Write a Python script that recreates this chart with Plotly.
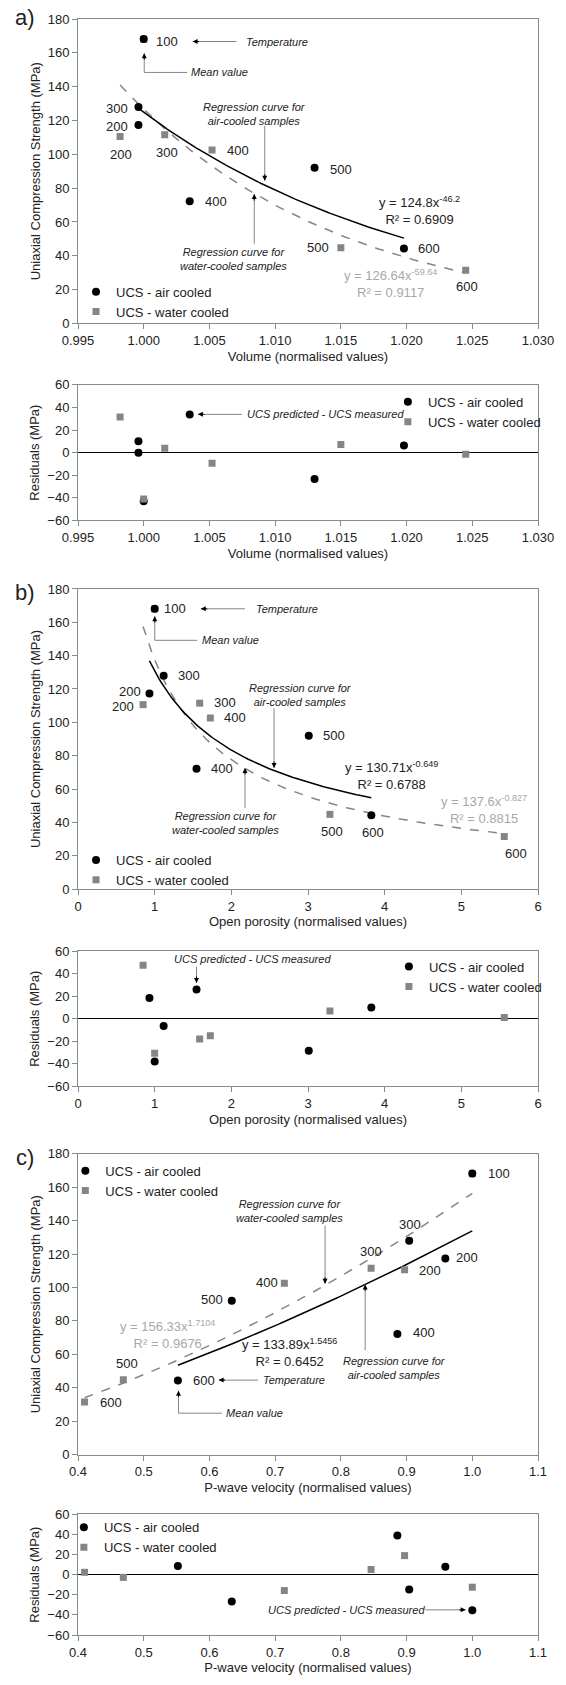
import numpy as np
import plotly.graph_objects as go

# ---------------- data ----------------
temps = [100, 200, 300, 400, 500, 600]

ucs_air = [168.2, 117.3, 128.0, 72.2, 92.0, 44.3]
ucs_water = [168.0, 110.6, 111.5, 102.6, 44.8, 31.5]

vol_air = [1.0000, 0.9996, 0.9996, 1.0035, 1.0130, 1.0198]
vol_water = [1.0000, 0.9982, 1.0016, 1.0052, 1.0150, 1.0245]
res_vol_air = [-43.0, 10.2, 0.0, 33.7, -23.4, 6.4]
res_vol_water = [-41.0, 31.6, 3.8, -9.4, 7.3, -1.5]

por_air = [1.000, 0.932, 1.117, 1.546, 3.010, 3.826]
por_water = [1.000, 0.849, 1.587, 1.726, 3.286, 5.560]
res_por_air = [-37.9, 18.5, -6.5, 25.9, -28.5, 10.0]
res_por_water = [-30.6, 47.4, -17.9, -15.0, 6.8, 1.2]

vp_air = [1.000, 0.959, 0.904, 0.886, 0.634, 0.552]
vp_water = [1.000, 0.897, 0.846, 0.714, 0.469, 0.410]
res_vp_air = [-35.4, 7.8, -14.8, 38.8, -26.8, 8.7]
res_vp_water = [-12.5, 18.9, 5.1, -15.8, -2.7, 2.3]

# power-law fits y = a * x^b (coefficients printed on the chart)
fit_vol_air = [124.8, -46.2]
fit_vol_water = [126.64, -59.64]
fit_por_air = [130.71, -0.649]
fit_por_water = [137.6, -0.827]
fit_vp_air = [133.89, 1.5456]
fit_vp_water = [156.33, 1.7104]

# ---------------- style ----------------
FONT = "Liberation Sans, Arial, sans-serif"
BLACK = "#000000"
GRAY = "#858585"
EQGRAY = "#a8a8a8"
FRAME = "#8a8a8a"
TXT = "#222222"

fig = go.Figure()

def curve(xs, coef):
    x = np.linspace(min(xs), max(xs), 120)
    return x, coef[0] * x ** coef[1]

def add_main(n, xa, xw, fa, fw, leg):
    xr, yr = ("x%d" % n if n > 1 else "x"), ("y%d" % n if n > 1 else "y")
    cx, cy = curve(xw, fw)
    fig.add_trace(go.Scatter(x=cx, y=cy, mode="lines", line=dict(color=GRAY, width=1.5, dash="dash"),
                             xaxis=xr, yaxis=yr, showlegend=False, hoverinfo="skip"))
    cx, cy = curve(xa, fa)
    fig.add_trace(go.Scatter(x=cx, y=cy, mode="lines", line=dict(color=BLACK, width=1.5),
                             xaxis=xr, yaxis=yr, showlegend=False, hoverinfo="skip"))
    fig.add_trace(go.Scatter(x=xw, y=ucs_water, mode="markers", name="UCS - water cooled",
                             marker=dict(symbol="square", size=7, color=GRAY),
                             xaxis=xr, yaxis=yr, legend=leg, legendrank=2))
    fig.add_trace(go.Scatter(x=xa, y=ucs_air, mode="markers", name="UCS - air cooled",
                             marker=dict(symbol="circle", size=8, color=BLACK),
                             xaxis=xr, yaxis=yr, legend=leg, legendrank=1))

def add_res(n, xa, xw, ra, rw, leg):
    xr, yr = "x%d" % n, "y%d" % n
    fig.add_trace(go.Scatter(x=xa, y=ra, mode="markers", name="UCS - air cooled",
                             marker=dict(symbol="circle", size=8, color=BLACK),
                             xaxis=xr, yaxis=yr, legend=leg, legendrank=1))
    fig.add_trace(go.Scatter(x=xw, y=rw, mode="markers", name="UCS - water cooled",
                             marker=dict(symbol="square", size=7, color=GRAY),
                             xaxis=xr, yaxis=yr, legend=leg, legendrank=2))

add_main(1, vol_air, vol_water, fit_vol_air, fit_vol_water, "legend")
add_res(2, vol_air, vol_water, res_vol_air, res_vol_water, "legend2")
add_main(3, por_air, por_water, fit_por_air, fit_por_water, "legend3")
add_res(4, por_air, por_water, res_por_air, res_por_water, "legend4")
add_main(5, vp_air, vp_water, fit_vp_air, fit_vp_water, "legend5")
add_res(6, vp_air, vp_water, res_vp_air, res_vp_water, "legend6")

# ---------------- annotations ----------------
anns = []
shapes = []

def ref(n):
    return ("x" if n == 1 else "x%d" % n), ("y" if n == 1 else "y%d" % n)

def text(n, x, y, t, size=13, color=TXT, xanchor="center", italic=False):
    xr, yr = ref(n)
    if italic:
        t = "<i>" + t + "</i>"
    anns.append(dict(x=x, y=y, xref=xr, yref=yr, text=t, showarrow=False,
                     font=dict(family=FONT, size=size, color=color),
                     xanchor=xanchor, yanchor="middle", align="center"))

def arrow(n, x0, y0, x1, y1, d):
    xr, yr = ref(n)
    shapes.append(dict(type="line", xref=xr, yref=yr, x0=x0, y0=y0, x1=x1, y1=y1,
                       line=dict(color=GRAY, width=1)))
    off = {"left": (8, 0), "right": (-8, 0), "up": (0, 8), "down": (0, -8)}[d]
    anns.append(dict(x=x1, y=y1, xref=xr, yref=yr, ax=off[0], ay=off[1],
                     text="", showarrow=True, arrowhead=2, arrowsize=1, arrowwidth=1,
                     arrowcolor=BLACK))

def hline(n, x0, x1, y):
    xr, yr = ref(n)
    shapes.append(dict(type="line", xref=xr, yref=yr, x0=x0, x1=x1, y0=y, y1=y,
                       line=dict(color=GRAY, width=1)))

# panel a
lab_a = [(0, 1.00077, 166.7, "left"), (2, 0.99795, 127.0, "center"), (1, 0.99795, 116.7, "center"),
         (1, 0.99827, 100.0, "center"), (2, 1.00179, 101.0, "center"), (3, 1.00715, 102.4, "center"),
         (4, 1.01503, 91.2, "center"), (3, 1.00551, 72.0, "center"), (5, 1.02174, 44.1, "center"),
         (4, 1.01329, 44.7, "center"), (5, 1.02461, 21.6, "center")]
for i, x, y, a in lab_a:
    text(1, x, y, str(temps[i]), xanchor=a)
text(1, 1.00761, 166.7, "Temperature", size=11, xanchor="left", italic=True)
arrow(1, 1.00707, 166.7, 1.00372, 166.7, "left")
text(1, 1.00345, 148.4, "Mean value", size=11, xanchor="left", italic=True)
hline(1, 1.00004, 1.00331, 148.4)
arrow(1, 1.00004, 148.4, 1.00004, 159.8, "up")
text(1, 1.00841, 124.0, "Regression curve for<br>air-cooled samples", size=11, italic=True)
arrow(1, 1.00921, 116.7, 1.00921, 84.3, "down")
text(1, 1.0068, 38.4, "Regression curve for<br>water-cooled samples", size=11, italic=True)
arrow(1, 1.00841, 47.1, 1.00841, 76.5, "up")
text(1, 1.02101, 66.7, "y = 124.8x<sup>-46.2</sup><br>R² = 0.6909", color=TXT)
text(1, 1.01874, 23.5, "y = 126.64x<sup>-59.64</sup><br>R² = 0.9117", color=EQGRAY)

# residual a
text(2, 1.0077, 33.9, "UCS predicted - UCS measured", size=11, xanchor="left", italic=True)
arrow(2, 1.00747, 33.9, 1.00412, 33.9, "left")

# panel b
lab_b = [(0, 1.094, 168.1, "left"), (2, 1.445, 127.9, "center"), (1, 0.674, 118.3, "center"),
         (1, 0.582, 109.8, "center"), (2, 1.911, 111.8, "center"), (3, 2.054, 102.7, "center"),
         (4, 3.342, 91.9, "center"), (3, 1.883, 72.2, "center"), (4, 3.314, 34.8, "center"),
         (5, 3.854, 33.8, "center"), (5, 5.714, 21.5, "center")]
for i, x, y, a in lab_b:
    text(3, x, y, str(temps[i]), xanchor=a)
text(3, 2.294, 168.1, "Temperature", size=11, xanchor="left", italic=True)
arrow(3, 2.178, 168.1, 1.6015, 168.1, "left")
text(3, 1.59, 149.2, "Mean value", size=11, xanchor="left", italic=True)
hline(3, 1.0015, 1.555, 149.2)
arrow(3, 1.0015, 149.2, 1.0015, 163.7, "up")
text(3, 2.9, 116.4, "Regression curve for<br>air-cooled samples", size=11, italic=True)
arrow(3, 2.557, 108.4, 2.557, 72.6, "down")
text(3, 1.925, 39.8, "Regression curve for<br>water-cooled samples", size=11, italic=True)
arrow(3, 2.178, 48.7, 2.178, 72.6, "up")
text(3, 4.095, 67.9, "y = 130.71x<sup>-0.649</sup><br>R² = 0.6788", color=TXT)
text(3, 5.30, 47.5, "y = 137.6x<sup>-0.827</sup><br>R² = 0.8815", color=EQGRAY)

# residual b
text(4, 2.28, 53.3, "UCS predicted - UCS measured", size=11, italic=True)
arrow(4, 1.546, 46.0, 1.546, 31.8, "down")

# panel c
lab_c = [(0, 1.041, 168.2, "center"), (2, 0.9046, 137.9, "center"), (2, 0.846, 121.7, "center"),
         (1, 0.992, 117.7, "center"), (1, 0.936, 110.1, "center"), (3, 0.687, 102.8, "center"),
         (3, 0.926, 72.9, "center"), (4, 0.604, 92.7, "center"), (5, 0.592, 44.6, "center"),
         (4, 0.474, 54.6, "center"), (5, 0.450, 31.4, "center")]
for i, x, y, a in lab_c:
    text(5, x, y, str(temps[i]), xanchor=a)
text(5, 0.678, 44.6, "Temperature", size=11, xanchor="left", italic=True)
arrow(5, 0.674, 44.6, 0.614, 44.6, "left")
text(5, 0.622, 24.8, "Mean value", size=11, xanchor="left", italic=True)
hline(5, 0.5529, 0.619, 24.8)
arrow(5, 0.5529, 24.8, 0.5529, 38.3, "up")
text(5, 0.722, 145.9, "Regression curve for<br>water-cooled samples", size=11, italic=True)
arrow(5, 0.776, 136.9, 0.776, 102.2, "down")
text(5, 0.882, 51.6, "Regression curve for<br>air-cooled samples", size=11, italic=True)
arrow(5, 0.837, 62.5, 0.837, 101.8, "up")
text(5, 0.5356, 71.8, "y = 156.33x<sup>1.7104</sup><br>R² = 0.9676", color=EQGRAY)
text(5, 0.722, 60.9, "y = 133.89x<sup>1.5456</sup><br>R² = 0.6452", color=TXT)

# residual c
text(6, 0.686, -35.0, "UCS predicted - UCS measured", size=11, xanchor="left", italic=True)
arrow(6, 0.9286, -35.0, 0.990, -35.0, "right")

# panel letters
for lab, yp in (("a)", 1.001), ("b)", 0.6453), ("c)", 0.2956)):
    anns.append(dict(x=-0.115, y=yp, xref="paper", yref="paper", text=lab, showarrow=False,
                     font=dict(family=FONT, size=22, color=TXT), xanchor="center", yanchor="middle"))

# ---------------- axes ----------------
def xax(domain_anchor, rng, dtick, fmt, title):
    return dict(domain=[0, 1], anchor=domain_anchor, range=rng, dtick=dtick, tickformat=fmt,
                showline=True, linecolor=FRAME, linewidth=1, mirror=True, ticks="outside",
                ticklen=5, tickcolor=FRAME, showgrid=False, zeroline=False,
                tickfont=dict(family=FONT, size=13, color=TXT),
                title=dict(text=title, font=dict(family=FONT, size=13, color=TXT), standoff=4))

def yax(domain, anchor, res):
    d = dict(domain=domain, anchor=anchor, dtick=20,
             showline=True, linecolor=FRAME, linewidth=1, mirror=True, ticks="outside",
             ticklen=5, tickcolor=FRAME, showgrid=False,
             tickfont=dict(family=FONT, size=13, color=TXT),
             title=dict(text="Residuals (MPa)" if res else "Uniaxial Compression Strength (MPa)",
                        font=dict(family=FONT, size=13, color=TXT), standoff=4))
    if res:
        d.update(range=[-60, 60], zeroline=True, zerolinecolor=BLACK, zerolinewidth=1)
    else:
        d.update(range=[0, 180], zeroline=False)
    return d

vol_t = "Volume (normalised values)"
por_t = "Open porosity (normalised values)"
vp_t = "P-wave velocity (normalised values)"

def legend(x, y):
    return dict(x=x, y=y, xanchor="left", yanchor="top", bgcolor="rgba(0,0,0,0)",
                font=dict(family=FONT, size=13, color=TXT), tracegroupgap=0,
                itemwidth=30, traceorder="normal")

fig.update_layout(
    width=566, height=1685,
    margin=dict(l=78, r=19, t=19, b=42),
    paper_bgcolor="white", plot_bgcolor="white",
    showlegend=True,
    xaxis=xax("y", [0.995, 1.030], 0.005, ".3f", vol_t),
    yaxis=yax([0.8116, 1.0], "x", False),
    xaxis2=xax("y2", [0.995, 1.030], 0.005, ".3f", vol_t),
    yaxis2=yax([0.6897, 0.7736], "x2", True),
    xaxis3=xax("y3", [0, 6], 1, "d", por_t),
    yaxis3=yax([0.4616, 0.6473], "x3", False),
    xaxis4=xax("y4", [0, 6], 1, "d", por_t),
    yaxis4=yax([0.3395, 0.4232], "x4", True),
    xaxis5=xax("y5", [0.4, 1.1], 0.1, ".1f", vp_t),
    yaxis5=yax([0.1116, 0.2978], "x5", False),
    xaxis6=xax("y6", [0.4, 1.1], 0.1, ".1f", vp_t),
    yaxis6=yax([0.0, 0.0747], "x6", True),
    legend=legend(-0.0043, 0.8405),
    legend2=legend(0.6737, 0.7724),
    legend3=legend(-0.0043, 0.4889),
    legend4=legend(0.6759, 0.4229),
    legend5=legend(-0.0275, 0.2966),
    legend6=legend(-0.0307, 0.0759),
    annotations=anns,
    shapes=shapes,
)

fig.write_html("out.html", config={"displayModeBar": False},
               post_script="document.body.style.margin='0';document.body.style.overflow='hidden';")
